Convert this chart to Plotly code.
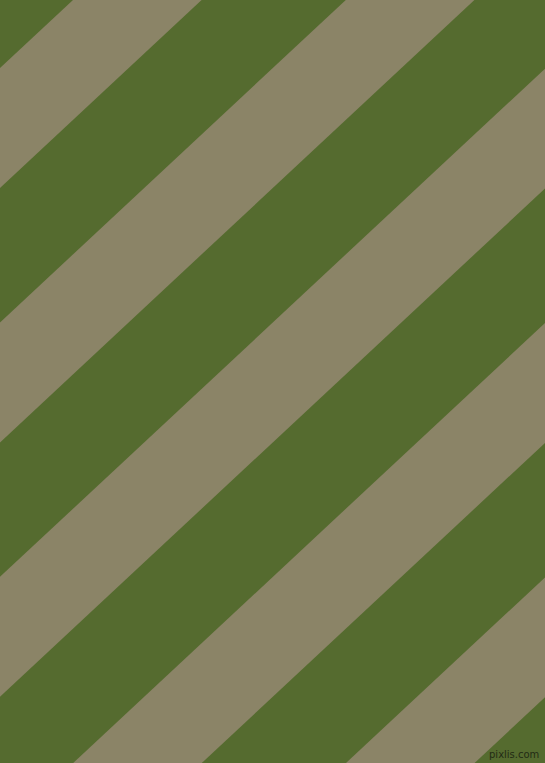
import math

import plotly.graph_objects as go

WIDTH = 545
HEIGHT = 763

GREEN = "#556b2f"
TAN = "#8b8467"

# where each tan stripe meets the top edge (left and right side)
tan_left = [73.0, 345.8, 618.6, 891.4, 1164.2]
tan_right = [201.6, 474.4, 747.2, 1020.0, 1292.8]

# stripes run up to the right, about 43 degrees off horizontal
ANGLE = 43.0
run = HEIGHT / math.tan(math.radians(ANGLE))  # horizontal shift from top edge to bottom edge

fig = go.Figure()

for a, b in zip(tan_left, tan_right):
    fig.add_trace(
        go.Scatter(
            x=[a, b, b - run, a - run, a],
            y=[0, 0, HEIGHT, HEIGHT, 0],
            mode="lines",
            fill="toself",
            fillcolor=TAN,
            line=dict(width=0, color=TAN),
            hoverinfo="skip",
            showlegend=False,
        )
    )

fig.add_annotation(
    text="pixlis.com",
    x=541,
    y=754,
    xref="x",
    yref="y",
    xanchor="right",
    yanchor="middle",
    showarrow=False,
    font=dict(family="DejaVu Sans", size=10, color="#232b14"),
)

fig.update_xaxes(range=[0, WIDTH], visible=False, fixedrange=True)
fig.update_yaxes(range=[HEIGHT, 0], visible=False, fixedrange=True)
fig.update_layout(
    width=WIDTH,
    height=HEIGHT,
    margin=dict(l=0, r=0, t=0, b=0),
    plot_bgcolor=GREEN,
    paper_bgcolor=GREEN,
)

# drop the page's default body margin so the plot fills the window
fig.write_html(
    "out.html",
    config={"displayModeBar": False},
    post_script="document.body.style.margin='0';document.body.style.overflow='hidden';",
)
